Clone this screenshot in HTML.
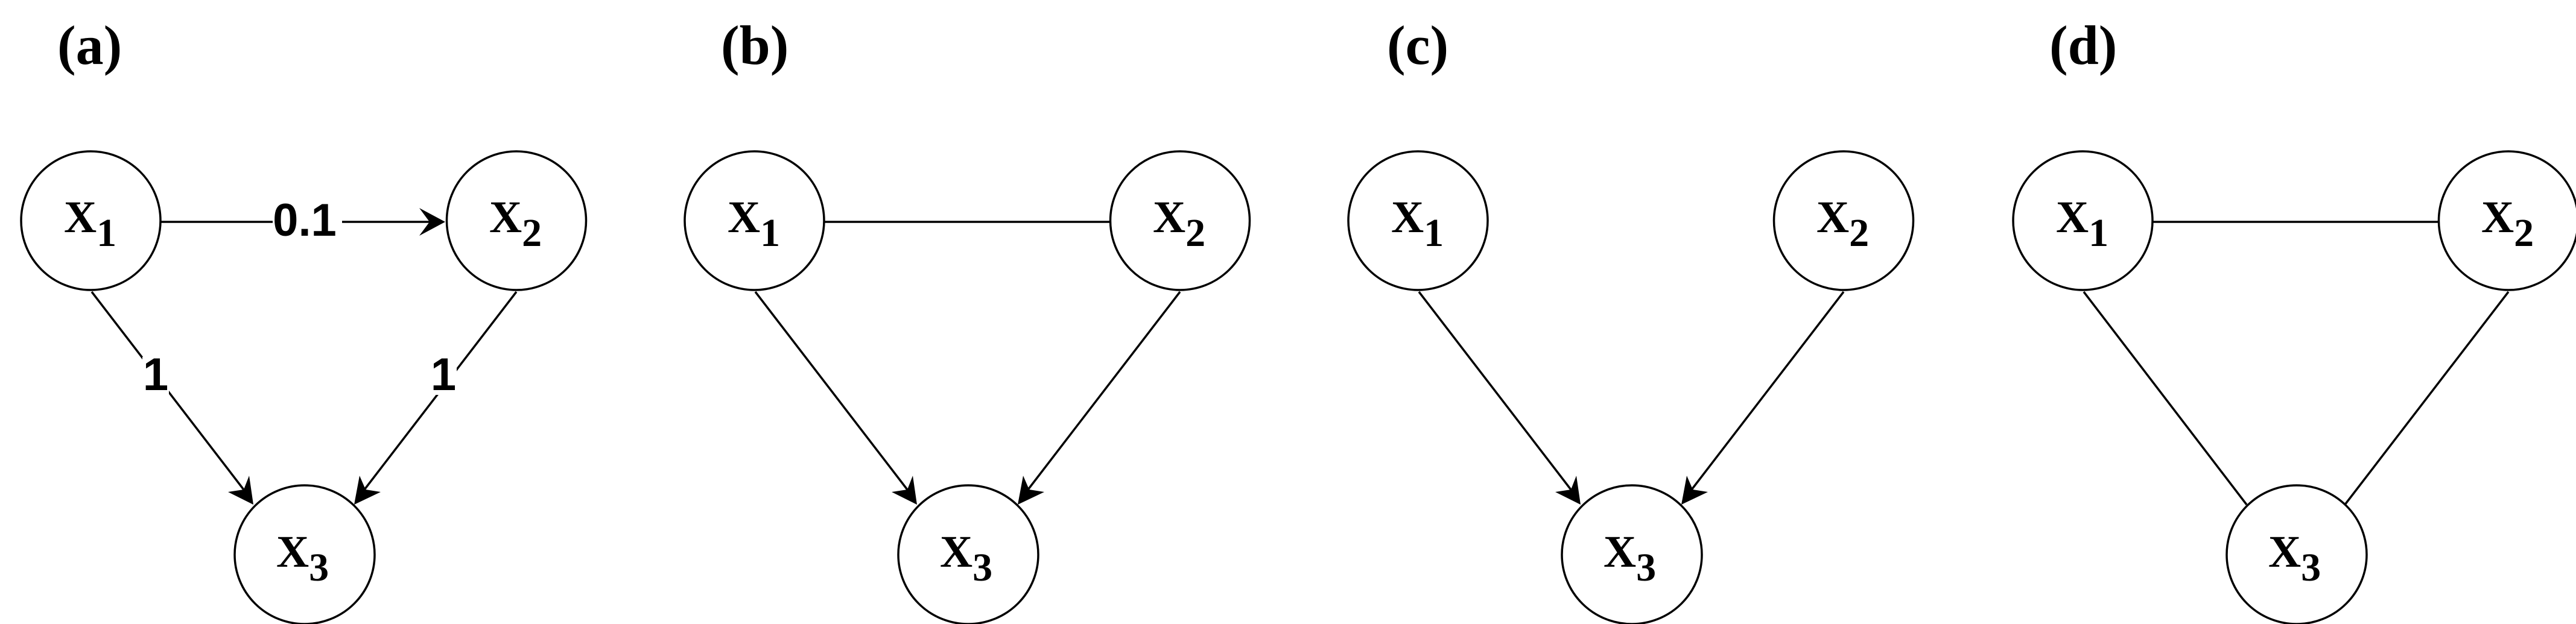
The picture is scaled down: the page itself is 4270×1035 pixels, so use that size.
<!DOCTYPE html>
<html><head><meta charset="utf-8"><style>
html,body{margin:0;padding:0;background:#fff;}
svg{display:block;}
.lbl{font-family:"Liberation Serif",serif;font-weight:bold;}
.num{font-family:"Liberation Sans",sans-serif;font-weight:bold;font-size:76px;}
</style></head><body>
<svg width="4270" height="1035" viewBox="0 0 4270 1035" xmlns="http://www.w3.org/2000/svg">
<defs>
<g id="nodes" fill="none" stroke="#000" stroke-width="3.5">
  <ellipse cx="150.5" cy="366" rx="115.5" ry="115" fill="#fff"/>
  <ellipse cx="856" cy="366" rx="115.5" ry="115" fill="#fff"/>
  <ellipse cx="505" cy="920" rx="116" ry="115" fill="#fff"/>
</g>
<g id="names" class="lbl" fill="#000" stroke="none">
  <text x="106" y="385" font-size="75">X<tspan font-size="66" dy="23">1</tspan></text>
  <text x="811" y="385" font-size="75">X<tspan font-size="66" dy="23">2</tspan></text>
  <text x="458" y="940" font-size="75">X<tspan font-size="66" dy="23">3</tspan></text>
</g>
<g id="diagArrows">
  <line x1="152" y1="484" x2="410" y2="820" stroke="#000" stroke-width="3.5"/>
  <polygon points="420,837 378,816 404,812 413,789" fill="#000"/>
  <line x1="856" y1="484" x2="598" y2="820" stroke="#000" stroke-width="3.5"/>
  <polygon points="587,837 631,816 606,812 596,789" fill="#000"/>
</g>
</defs>

<!-- (a) -->
<text x="95" y="106" class="lbl" font-size="92">(a)</text>
<line x1="266" y1="368" x2="712" y2="368" stroke="#000" stroke-width="3.5"/>
<polygon points="738,368 695,345 712,368 695,391" fill="#000"/>
<use href="#diagArrows"/>
<rect x="452" y="334" width="115" height="66" fill="#fff"/>
<text x="505" y="391" class="num" text-anchor="middle">0.1</text>
<rect x="236" y="592" width="44" height="63" fill="#fff"/>
<text x="258" y="647" class="num" text-anchor="middle">1</text>
<rect x="713" y="592" width="44" height="63" fill="#fff"/>
<text x="735" y="647" class="num" text-anchor="middle">1</text>
<use href="#nodes"/>
<use href="#names"/>

<!-- (b) -->
<g transform="translate(1100,0)">
<text x="95" y="106" class="lbl" font-size="92">(b)</text>
<line x1="266" y1="368" x2="741" y2="368" stroke="#000" stroke-width="3.5"/>
<use href="#diagArrows"/>
<use href="#nodes"/>
<use href="#names"/>
</g>

<!-- (c) -->
<g transform="translate(2200,0)">
<text x="99" y="106" class="lbl" font-size="92">(c)</text>
<use href="#diagArrows"/>
<use href="#nodes"/>
<use href="#names"/>
</g>

<!-- (d) -->
<g transform="translate(3302,0)">
<text x="95" y="106" class="lbl" font-size="92">(d)</text>
<line x1="266" y1="368" x2="741" y2="368" stroke="#000" stroke-width="3.5"/>
<line x1="152" y1="484" x2="422" y2="837" stroke="#000" stroke-width="3.5"/>
<line x1="856" y1="484" x2="585" y2="837" stroke="#000" stroke-width="3.5"/>
<use href="#nodes"/>
<use href="#names"/>
</g>
</svg>
</body></html>
